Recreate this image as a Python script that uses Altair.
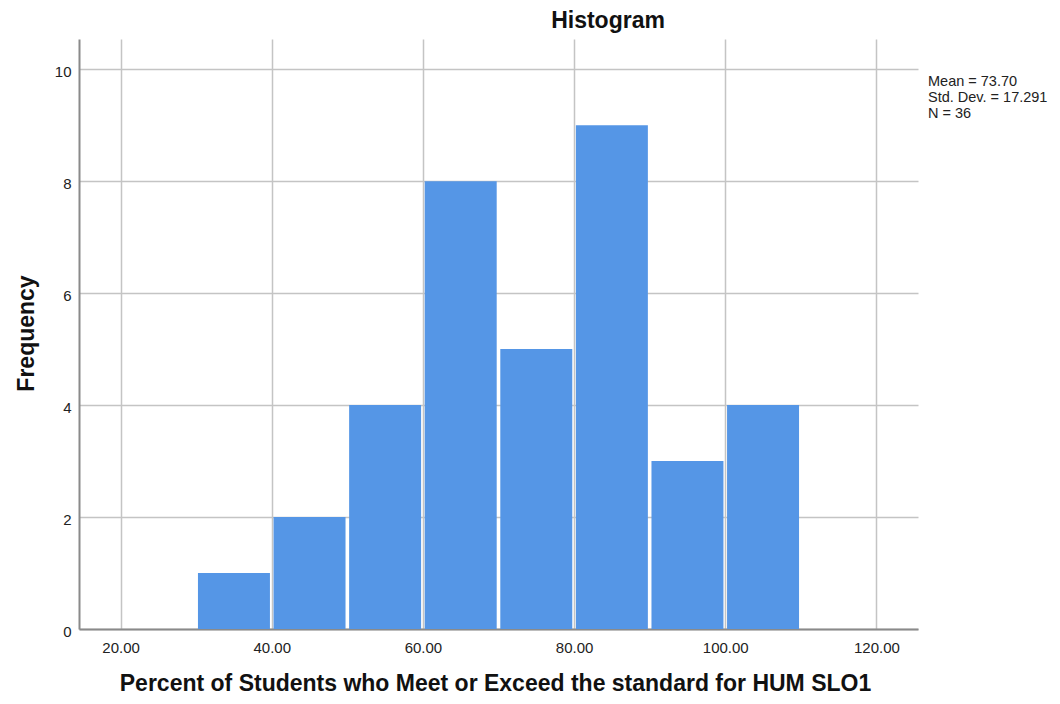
import altair as alt
import pandas as pd

# ---- data ----
bin_start = [30, 40, 50, 60, 70, 80, 90, 100]
bin_end = [40, 50, 60, 70, 80, 90, 100, 110]
counts = [1, 2, 4, 8, 5, 9, 3, 4]
x_ticks = [20, 40, 60, 80, 100, 120]
y_ticks = [0, 2, 4, 6, 8, 10]
x_domain = [14.5, 125.5]
y_domain = [0, 10.54]
stat_mean = "73.70"
stat_sd = "17.291"
stat_n = "36"
title_text = "Histogram"
x_title = "Percent of Students who Meet or Exceed the standard for HUM SLO1"
y_title = "Frequency"

df = pd.DataFrame({"start": bin_start, "end": bin_end, "count": counts})

FONT = "Liberation Sans"
BAR = "#5596E6"
GRID = "#c4c4c4"
DOMAIN = "#8a8a8a"
W, H = 839, 590

x_axis = alt.Axis(
    values=x_ticks, format=".2f", grid=True, gridColor=GRID, gridWidth=1.5,
    domainColor=DOMAIN, domainWidth=2, ticks=False, tickSize=0,
    labelFont=FONT, labelFontSize=15, labelColor="#222222", labelPadding=11,
    title=x_title, titleFont=FONT, titleFontSize=23, titleFontWeight="bold",
    titleColor="#111111", titleX=416, titleY=61, titleAlign="center",
    titleBaseline="alphabetic", labelFlush=False,
)
y_axis = alt.Axis(
    values=y_ticks, grid=True, gridColor=GRID, gridWidth=1.5,
    domainColor=DOMAIN, domainWidth=2, ticks=False, tickSize=0,
    labelFont=FONT, labelFontSize=15, labelColor="#222222", labelPadding=8,
    labelOffset=2, labelFlush=False,
    title=y_title, titleFont=FONT, titleFontSize=23, titleFontWeight="bold",
    titleColor="#111111", titleX=-46, titleY=294, titleAngle=270,
    titleAlign="center", titleBaseline="alphabetic",
)

bars = alt.Chart(df).mark_bar(color=BAR, xOffset=1.8, x2Offset=-1.8).encode(
    x=alt.X("start:Q", scale=alt.Scale(domain=x_domain, nice=False, zero=False), axis=x_axis),
    x2="end:Q",
    y=alt.Y("count:Q", scale=alt.Scale(domain=y_domain, nice=False), axis=y_axis),
    y2=alt.datum(0),
)

title_mark = alt.Chart(pd.DataFrame({"t": [title_text]})).mark_text(
    font=FONT, fontSize=23, fontWeight="bold", color="#111111",
    align="center", baseline="alphabetic",
).encode(x=alt.value(529), y=alt.value(-11), text="t:N")

stats_text = f"Mean = {stat_mean}\nStd. Dev. = {stat_sd}\nN = {stat_n}"
stats_mark = alt.Chart(pd.DataFrame({"t": [stats_text]})).mark_text(
    font=FONT, fontSize=14.5, color="#222222", align="left",
    baseline="alphabetic", lineBreak="\n", lineHeight=16,
).encode(x=alt.value(849), y=alt.value(47), text="t:N")

chart = alt.layer(bars, title_mark, stats_mark).properties(
    width=W, height=H,
    autosize=alt.AutoSizeParams(type="none"),
    padding={"left": 71, "top": 31, "right": 134, "bottom": 66},
    background="white",
).configure_view(stroke=None)

chart.save("out.html", embed_options={"renderer": "svg", "actions": False})
